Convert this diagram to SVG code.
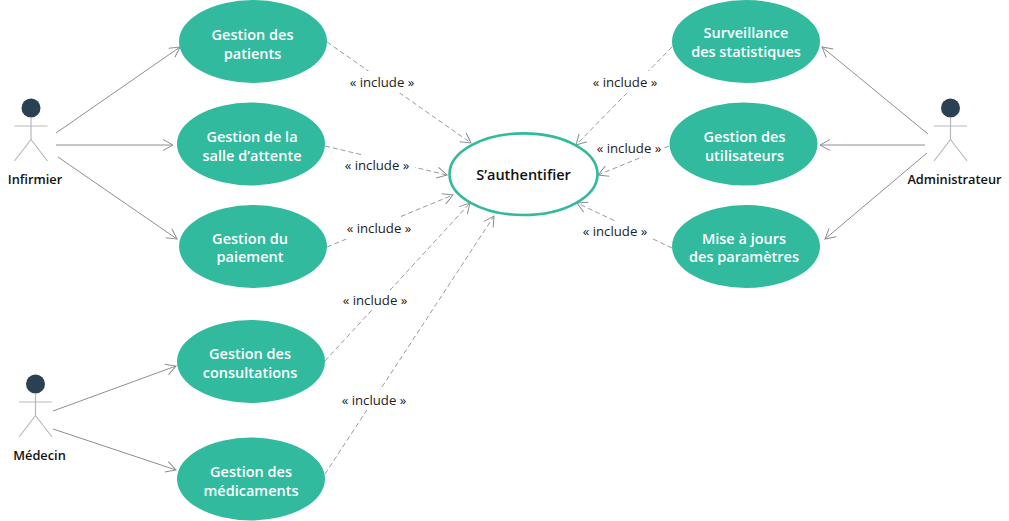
<svg xmlns="http://www.w3.org/2000/svg" width="1009" height="521" viewBox="0 0 1009 521">
<style>
text{font-family:"Open Sans","Noto Sans","Liberation Sans",sans-serif;text-anchor:middle}
.uc{fill:#31BA9E}
.ut{fill:#fff;font-size:14.5px;font-weight:600}
.an{fill:#111;font-size:12.8px;font-weight:600}
.lb{fill:#222;font-size:13.2px}
.lr{fill:#fff}
.lim{stroke:#b5b9bb;stroke-width:1.2;fill:none}
.a{stroke:#8c9092;stroke-width:1;fill:none;marker-end:url(#o)}
.d{stroke:#9a9a9a;stroke-width:1;stroke-dasharray:5 3;fill:none;marker-end:url(#o)}
</style>
<defs>
<marker id="o" markerWidth="14" markerHeight="14" refX="11" refY="6" orient="auto" markerUnits="userSpaceOnUse">
<path d="M1 0.5L11 6L1 11.5" fill="none" stroke="#8c9092" stroke-width="1"/>
</marker>
<g id="actor">
<circle cx="0" cy="0" r="9.5" fill="#2B4050"/>
<path class="lim" d="M-16.5 18H16.5M0 9.5V31.5M0 31.5L-16.5 53M0 31.5L16.5 53"/>
</g>
</defs>
<rect width="1009" height="521" fill="#fff"/>
<g id="connectors">
<path class="a" d="M56 133L180 47"/>
<path class="a" d="M56 145H173"/>
<path class="a" d="M58 157L177 239"/>
<path class="a" d="M53 411L176 366"/>
<path class="a" d="M53 429L176 470"/>
<path class="a" d="M928 134L822 47"/>
<path class="a" d="M925 145H820"/>
<path class="a" d="M927 153L825 239"/>
<path class="d" d="M327 42L471 143"/>
<path class="d" d="M325 146L447 175"/>
<path class="d" d="M327 247L453 195"/>
<path class="d" d="M325 361L470 203"/>
<path class="d" d="M325 474L494 216"/>
<path class="d" d="M672 47L576 145"/>
<path class="d" d="M669 146L598 175"/>
<path class="d" d="M672 248L577 203"/>
</g>
<g id="labels">
<g><rect class="lr" x="344" y="71" width="76" height="22"/><text class="lb" x="382" y="86.5">« include »</text></g>
<g><rect class="lr" x="339" y="155" width="76" height="20"/><text class="lb" x="377" y="169.5">« include »</text></g>
<g><rect class="lr" x="341" y="217" width="76" height="22"/><text class="lb" x="379" y="232.5">« include »</text></g>
<g><rect class="lr" x="337" y="290" width="76" height="20"/><text class="lb" x="375" y="304.5">« include »</text></g>
<g><rect class="lr" x="336" y="390" width="76" height="20"/><text class="lb" x="374" y="404.5">« include »</text></g>
<g><rect class="lr" x="587" y="71" width="76" height="22"/><text class="lb" x="625" y="86.5">« include »</text></g>
<g><rect class="lr" x="593" y="139" width="70" height="18"/><text class="lb" x="629" y="152.5">« include »</text></g>
<g><rect class="lr" x="577" y="221" width="76" height="20"/><text class="lb" x="615" y="235.5">« include »</text></g>
</g>
<g id="uc-patients"><ellipse class="uc" cx="253" cy="41.5" rx="74" ry="41.5"/><text class="ut" x="252.5" y="40">Gestion des</text><text class="ut" x="252.5" y="59">patients</text></g>
<g id="uc-salle"><ellipse class="uc" cx="251" cy="144" rx="74" ry="41.5"/><text class="ut" x="252" y="142">Gestion de la</text><text class="ut" x="252" y="161">salle d’attente</text></g>
<g id="uc-paiement"><ellipse class="uc" cx="253" cy="246.5" rx="74" ry="41.5"/><text class="ut" x="250" y="243.5">Gestion du</text><text class="ut" x="250" y="262">paiement</text></g>
<g id="uc-consultations"><ellipse class="uc" cx="251" cy="361.5" rx="74" ry="41.5"/><text class="ut" x="250" y="359">Gestion des</text><text class="ut" x="250" y="378">consultations</text></g>
<g id="uc-medicaments"><ellipse class="uc" cx="251" cy="479" rx="74" ry="41.5"/><text class="ut" x="251" y="477">Gestion des</text><text class="ut" x="251" y="496">médicaments</text></g>
<g id="uc-statistiques"><ellipse class="uc" cx="746" cy="41.5" rx="74" ry="41.5"/><text class="ut" x="746" y="37.5">Surveillance</text><text class="ut" x="746" y="56.5">des statistiques</text></g>
<g id="uc-utilisateurs"><ellipse class="uc" cx="743.5" cy="144" rx="74" ry="41.5"/><text class="ut" x="744.5" y="142">Gestion des</text><text class="ut" x="744.5" y="161">utilisateurs</text></g>
<g id="uc-parametres"><ellipse class="uc" cx="746" cy="246.5" rx="74" ry="41.5"/><text class="ut" x="744" y="243.5">Mise à jours</text><text class="ut" x="744" y="262">des paramètres</text></g>
<g id="uc-auth"><ellipse cx="523.5" cy="174.2" rx="74" ry="40.8" fill="#fff" stroke="#31BA9E" stroke-width="2.6"/><text x="523.5" y="180" fill="#111" font-size="14.5" font-weight="600">S’authentifier</text></g>
<g id="actor-infirmier"><use href="#actor" x="31" y="108"/><text class="an" x="35" y="184">Infirmier</text></g>
<g id="actor-medecin"><use href="#actor" x="35.5" y="384"/><text class="an" x="39.5" y="460">Médecin</text></g>
<g id="actor-admin"><use href="#actor" x="950.5" y="108"/><text class="an" x="954.5" y="184">Administrateur</text></g>
</svg>
